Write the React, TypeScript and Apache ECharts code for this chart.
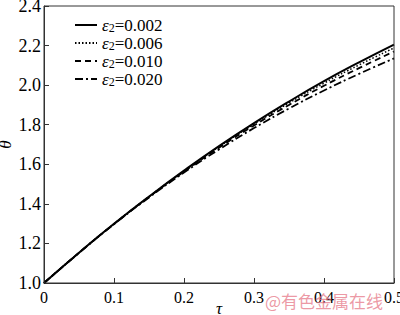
import React, { useEffect, useRef } from "react";
import * as echarts from "echarts";

const tau = [0, 0.05, 0.1, 0.15, 0.2, 0.25, 0.3, 0.35, 0.4, 0.45, 0.5];
const theta002 = [1.0, 1.153, 1.299, 1.437, 1.568, 1.692, 1.808, 1.917, 2.02, 2.115, 2.205];
const theta006 = [1.0, 1.153, 1.299, 1.436, 1.566, 1.689, 1.803, 1.91, 2.01, 2.102, 2.188];
const theta010 = [1.0, 1.153, 1.298, 1.435, 1.563, 1.684, 1.796, 1.9, 1.997, 2.086, 2.17];
const theta020 = [1.0, 1.152, 1.297, 1.432, 1.558, 1.675, 1.783, 1.882, 1.973, 2.057, 2.135];
const seriesNames = ["0.002", "0.006", "0.010", "0.020"];
const xTicks = [0, 0.1, 0.2, 0.3, 0.4, 0.5];
const yTicks = [1.0, 1.2, 1.4, 1.6, 1.8, 2.0, 2.2, 2.4];

const FONT = "Liberation Serif";

export default function App() {
  const ref = useRef<HTMLDivElement>(null);
  useEffect(() => {
    document.body.style.margin = "0";
    const chart = echarts.init(ref.current!, null, { renderer: "svg" });
    const all = [theta002, theta006, theta010, theta020];
    const types: any[] = ["solid", [1.5, 2], [6, 4], [8, 3, 2, 3]];
    const widths = [2, 1.5, 1.8, 1.8];
    chart.setOption({
      animation: false,
      grid: { left: 44, right: 6, top: 6, bottom: 32, containLabel: false, outerBoundsMode: "none" },
      legend: {
        orient: "vertical",
        left: 74,
        top: 16,
        padding: 0,
        itemWidth: 22,
        itemHeight: 8,
        itemGap: 0,
        itemStyle: { opacity: 0 },
        data: seriesNames.map((n) => ({ name: n })),
        formatter: (n: string) => `{e|ε}{s|2}{n|=${n}}`,
        textStyle: {
          fontFamily: FONT,
          fontSize: 17,
          color: "#000",
          lineHeight: 15,
          rich: {
            e: { fontFamily: FONT, fontSize: 17, fontStyle: "italic", color: "#000", lineHeight: 15 },
            s: { fontFamily: FONT, fontSize: 12, color: "#000", padding: [6, 0, 0, 0], lineHeight: 9 },
            n: { fontFamily: FONT, fontSize: 17, color: "#000", lineHeight: 15 },
          },
        },
      },
      xAxis: {
        type: "value",
        min: 0,
        max: 0.5,
        interval: 0.1,
        name: "τ",
        nameLocation: "middle",
        nameGap: 17,
        nameMoveOverlap: false,
        nameTextStyle: { fontFamily: FONT, fontSize: 17, fontStyle: "italic", color: "#000" },
        axisLine: { show: true, lineStyle: { color: "#333", width: 1 } },
        axisTick: { show: true, inside: true, length: 5, lineStyle: { color: "#333" } },
        splitLine: { show: false },
        axisLabel: {
          fontFamily: FONT,
          fontSize: 16,
          color: "#000",
          margin: 6,
          formatter: (v: number) => (xTicks.includes(Math.round(v * 10) / 10) ? (v === 0 ? "0" : v.toFixed(1)) : ""),
        },
      },
      yAxis: {
        type: "value",
        min: 1.0,
        max: 2.4,
        interval: 0.2,
        name: "θ",
        nameLocation: "middle",
        nameGap: 30,
        nameRotate: 90,
        nameMoveOverlap: false,
        nameTextStyle: { fontFamily: FONT, fontSize: 17, fontStyle: "italic", color: "#000" },
        axisLine: { show: true, lineStyle: { color: "#333", width: 1 } },
        axisTick: { show: true, inside: true, length: 5, lineStyle: { color: "#333" } },
        splitLine: { show: false },
        axisLabel: {
          fontFamily: FONT,
          fontSize: 18,
          color: "#000",
          margin: 3,
          formatter: (v: number) => (yTicks.some((t) => Math.abs(t - v) < 1e-6) ? v.toFixed(1) : ""),
        },
      },
      graphic: [
        {
          type: "rect",
          shape: { x: 44, y: 6, width: 350, height: 277 },
          style: { fill: "none", stroke: "#333", lineWidth: 1 },
          silent: true,
          z: 10,
        },
        {
          type: "text",
          left: 265,
          top: 292,
          style: {
            text: "@有色金属在线",
            font: "17px 'Noto Sans CJK SC'",
            fill: "rgba(230,120,135,0.75)",
          },
          z: 20,
        },
      ],
      series: all.map((d, i) => ({
        name: seriesNames[i],
        type: "line",
        showSymbol: false,
        symbol: "none",
        smooth: true,
        data: tau.map((t, j) => [t, d[j]]),
        lineStyle: { color: "#000", width: widths[i], type: types[i] },
        itemStyle: { color: "#000" },
        z: 5 - i,
      })),
    });
    return () => chart.dispose();
  }, []);
  return <div ref={ref} style={{ width: 400, height: 315 }} />;
}
